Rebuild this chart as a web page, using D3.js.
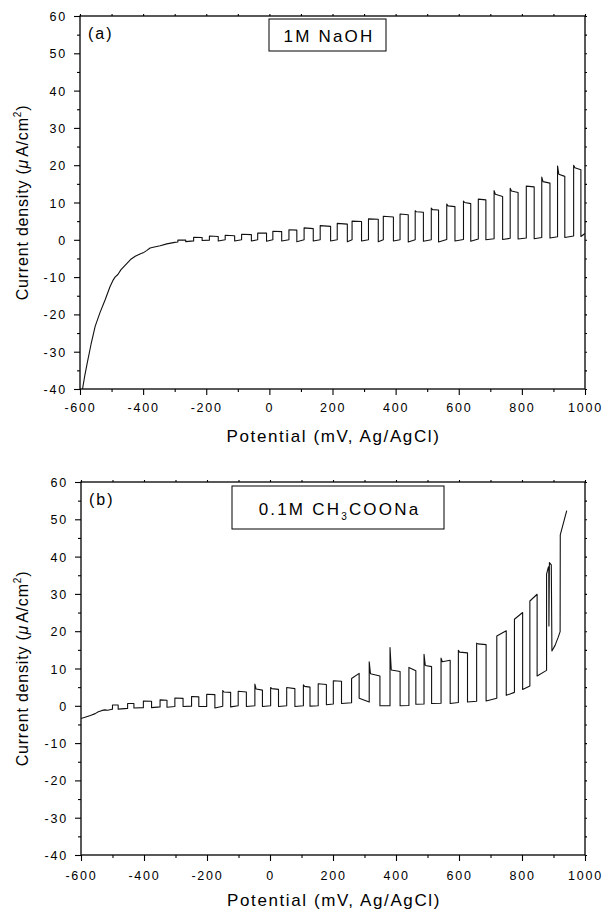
<!DOCTYPE html>
<html>
<head>
<meta charset="utf-8">
<script src="https://cdn.jsdelivr.net/npm/d3@7"></script>
<style>
  html, body { margin: 0; padding: 0; background: #fff; }
  svg { display: block; }
  text { font-family: "Liberation Sans", Arial, Helvetica, sans-serif; fill: #000; }
</style>
</head>
<body>
<svg id="chart" width="603" height="910"></svg>
<script>
// ---------------- DATA ----------------
const xTicks = [-600, -400, -200, 0, 200, 400, 600, 800, 1000];
const xMinorTicks = [-500, -300, -100, 100, 300, 500, 700, 900];
const yTicks = [-40, -30, -20, -10, 0, 10, 20, 30, 40, 50, 60];
const yMinorTicks = [-35, -25, -15, -5, 5, 15, 25, 35, 45, 55];

// Panel (a) 1M NaOH : dark curve before chopping (mV, uA/cm2)
const naohBaseV = [-592, -585, -577, -565, -552, -537, -520, -505, -495, -489, -480, -470, -452, -440, -425, -410, -400, -389, -378, -368, -346, -325, -300];
const naohBaseI = [-40, -36.5, -33, -28, -23.2, -19.6, -16, -12.6, -10.8, -10, -9.3, -8, -6.4, -5.3, -4.4, -3.8, -3.5, -2.9, -2.2, -2.0, -1.6, -1.1, -0.7];
// Panel (a) chopped-light pulses
const naohOnV     = [-290, -240, -190, -140, -88, -37, 11, 62, 110, 161, 215, 262, 314, 361, 414, 462, 513, 562, 615, 662, 712, 763, 814, 863, 913, 964];
const naohOffV    = [-265, -213, -162, -110, -57, -9, 39, 87, 139, 194, 247, 292, 345, 393, 440, 488, 536, 588, 638, 686, 739, 788, 839, 889, 936, 987];
const naohDarkOn  = [-0.6, -0.3, -0.1, 0.0, 0.0, 0.0, 0.0, 0.0, 0.0, 0.0, 0.0, 0.0, 0.0, 0.0, 0.0, 0.0, 0.0, 0.1, 0.1, 0.2, 0.3, 0.4, 0.5, 0.6, 0.8, 1.0];
const naohSpike   = [null, null, null, null, null, null, null, null, null, null, null, null, null, null, null, 7.8, 8.5, 9.6, 10.4, null, 13.2, 13.8, null, 16.8, 19.8, 20.0];
const naohTopS    = [-0.1, 0.7, 1.0, 1.2, 1.5, 1.8, 2.3, 2.7, 3.2, 3.8, 4.4, 5.0, 5.6, 6.3, 6.9, 7.5, 8.1, 9.1, 10.0, 10.9, 12.2, 13.1, 14.4, 15.6, 17.6, 19.3];
const naohTopE    = [-0.1, 0.6, 0.9, 1.1, 1.4, 1.8, 2.2, 2.6, 3.0, 3.6, 4.2, 4.9, 5.5, 6.1, 6.7, 7.4, 8.0, 8.9, 9.7, 10.7, 11.6, 12.7, 14.2, 15.2, 17.0, 18.8];
const naohDarkOff = [-0.5, -0.2, -0.3, -0.3, -0.3, -0.4, -0.3, -0.5, -0.3, -0.3, -0.5, -0.3, -0.5, -0.3, -0.6, -0.4, -0.6, -0.3, -0.4, 0.0, 0.1, 0.2, 0.3, 0.5, 0.6, 0.9];
const naohTailV = [1000];
const naohTailI = [1.7];

// Panel (b) 0.1M CH3COONa : dark curve before chopping
const acBaseV = [-600, -585, -570, -555, -545, -535, -525, -515, -505];
const acBaseI = [-3.4, -3.0, -2.6, -2.1, -1.6, -1.3, -1.1, -1.2, -1.0];
// Panel (b) chopped-light pulses
const acOnV     = [-500, -452, -402, -349, -302, -249, -201, -150, -101, -48, 2, 53, 106, 153, 201, 259, 315, 381, 441, 489, 543, 598, 656, 720, 776, 825];
const acOffV    = [-482, -432, -376, -327, -276, -226, -175, -125, -75, -24, 27, 79, 127, 179, 227, 283, 349, 413, 463, 513, 572, 627, 686, 750, 802, 848];
const acDarkOn  = [-0.9, -0.7, -0.5, -0.3, -0.2, -0.1, -0.2, -0.1, 0.0, 0.0, 0.0, 0.0, 0.0, 0.0, 0.5, 0.8, 1.0, 0.0, 0.1, 0.5, 0.7, 0.9, 1.2, 2.0, 3.6, 5.3];
const acSpike   = [null, null, null, null, null, null, null, 4.1, null, 5.8, 4.9, null, 5.6, null, null, null, 11.8, 15.6, null, 13.8, 12.8, 14.9, 16.8, null, null, null];
const acTopS    = [0.2, 0.6, 1.3, 1.6, 2.1, 2.5, 3.1, 3.7, 3.9, 4.5, 4.6, 4.9, 5.2, 5.9, 6.7, 7.3, 8.6, 9.6, 10.3, 10.8, 11.8, 14.4, 16.6, 18.7, 23.2, 28.1];
const acTopE    = [0.2, 0.6, 1.2, 1.5, 2.0, 2.4, 3.0, 3.6, 3.7, 4.2, 4.4, 4.6, 5.0, 5.7, 6.6, 8.7, 8.0, 9.2, 9.4, 10.5, 12.2, 14.2, 16.4, 20.1, 25.0, 29.9];
const acDarkOff = [-0.9, -0.6, -0.5, -0.4, -0.2, -0.2, -0.6, -0.3, -0.2, -0.2, -0.2, -0.2, -0.1, 0.3, 0.6, 2.0, 0.0, 0.0, 0.4, 0.6, 0.6, 1.0, 1.3, 2.8, 4.4, 8.0];
const acTailV = [878, 878, 883, 885, 885.5, 887, 893, 895, 905, 915, 921, 921.5, 942];
const acTailI = [9.5, 35.3, 37.0, 37.3, 21.4, 38.4, 37.8, 14.7, 16.2, 18.4, 19.9, 45.8, 52.3];

const spikeDecayMV = 4;

// ---------------- BUILD TRACES ----------------
function buildTrace(baseV, baseI, onV, offV, darkOn, spike, topS, topE, darkOff, tailV, tailI) {
  const pts = baseV.map((v, i) => [v, baseI[i]]);
  onV.forEach((v, i) => {
    pts.push([v, darkOn[i]]);
    if (spike[i] != null) {
      pts.push([v, spike[i]]);
      pts.push([v + spikeDecayMV, topS[i]]);
    } else {
      pts.push([v, topS[i]]);
    }
    pts.push([offV[i], topE[i]]);
    pts.push([offV[i], darkOff[i]]);
  });
  tailV.forEach((v, i) => pts.push([v, tailI[i]]));
  return pts;
}

const panels = [
  {
    id: "a", label: "(a)",
    left: 80, right: 585, top: 16, bottom: 389,
    trace: buildTrace(naohBaseV, naohBaseI, naohOnV, naohOffV, naohDarkOn, naohSpike, naohTopS, naohTopE, naohDarkOff, naohTailV, naohTailI),
    box: { x: 269, y: 19, w: 117, h: 32 },
    xLabelOffset: 18, titleY: 442
  },
  {
    id: "b", label: "(b)",
    left: 81, right: 585, top: 482, bottom: 855,
    trace: buildTrace(acBaseV, acBaseI, acOnV, acOffV, acDarkOn, acSpike, acTopS, acTopE, acDarkOff, acTailV, acTailI),
    box: { x: 232, y: 486, w: 212, h: 43 },
    xLabelOffset: 20, titleY: 906
  }
];

// ---------------- DRAW ----------------
const svg = d3.select("#chart");
const fmt = d => String(d);

panels.forEach((p, pi) => {
  const x = d3.scaleLinear().domain([-600, 1000]).range([p.left, p.right]);
  const y = d3.scaleLinear().domain([-40, 60]).range([p.bottom, p.top]);
  const g = svg.append("g");

  g.append("clipPath").attr("id", "clip" + p.id)
    .append("rect").attr("x", p.left).attr("y", p.top)
    .attr("width", p.right - p.left).attr("height", p.bottom - p.top);

  // axes
  const styleAxis = sel => {
    sel.select(".domain").remove();
    sel.selectAll(".tick line").attr("stroke", "#000").attr("stroke-width", 1.1);
    sel.selectAll(".tick text")
      .style("font-size", "12.5px").style("letter-spacing", "1.8px").attr("fill", "#000");
  };

  g.append("g").attr("transform", `translate(${p.left},0)`)
    .call(d3.axisLeft(y).tickValues(yTicks).tickSize(6).tickPadding(7).tickFormat(fmt))
    .call(styleAxis)
    .selectAll(".tick text").attr("dy", "0.36em");
  g.append("g").attr("transform", `translate(${p.left},0)`)
    .call(d3.axisLeft(y).tickValues(yMinorTicks).tickSize(3).tickFormat(""))
    .call(styleAxis);

  const xa = g.append("g").attr("transform", `translate(0,${p.bottom})`)
    .call(d3.axisBottom(x).tickValues(xTicks).tickSize(6).tickPadding(p.xLabelOffset - 6 - 4).tickFormat(fmt))
    .call(styleAxis);
  g.append("g").attr("transform", `translate(0,${p.bottom})`)
    .call(d3.axisBottom(x).tickValues(xMinorTicks).tickSize(3).tickFormat(""))
    .call(styleAxis);

  // top & right small ticks
  g.append("g").attr("transform", `translate(0,${p.top})`)
    .call(d3.axisTop(x).tickValues(xTicks.concat(xMinorTicks)).tickSize(2).tickFormat(""))
    .call(styleAxis);
  g.append("g").attr("transform", `translate(${p.right},0)`)
    .call(d3.axisRight(y).tickValues(yTicks.concat(yMinorTicks)).tickSize(2).tickFormat(""))
    .call(styleAxis);

  // frame
  g.append("rect").attr("x", p.left).attr("y", p.top)
    .attr("width", p.right - p.left).attr("height", p.bottom - p.top)
    .attr("fill", "none").attr("stroke", "#000").attr("stroke-width", 1.3);

  // trace
  const line = d3.line().x(d => x(d[0])).y(d => y(d[1]));
  g.append("path").datum(p.trace)
    .attr("clip-path", `url(#clip${p.id})`)
    .attr("d", line)
    .attr("fill", "none").attr("stroke", "#111").attr("stroke-width", 1.1)
    .attr("stroke-linejoin", "round");

  // panel label
  g.append("text").attr("x", p.left + 8).attr("y", p.top + 23)
    .style("font-size", "16px").style("letter-spacing", "2px").text(p.label);

  // electrolyte box
  g.append("rect").attr("x", p.box.x).attr("y", p.box.y)
    .attr("width", p.box.w).attr("height", p.box.h)
    .attr("fill", "#fff").attr("stroke", "#000").attr("stroke-width", 1);
  const bt = g.append("text").attr("x", p.box.x + p.box.w / 2 + 1.5)
    .attr("y", p.box.y + p.box.h / 2 + 7)
    .attr("text-anchor", "middle")
    .style("font-size", "17px").style("letter-spacing", "2.2px");
  if (p.id === "a") {
    bt.text("1M NaOH");
  } else {
    bt.append("tspan").text("0.1M CH");
    bt.append("tspan").attr("dy", 5).style("font-size", "10px").text("3");
    bt.append("tspan").attr("dy", -5).text("COONa");
  }

  // x title
  g.append("text").attr("x", (p.left + p.right) / 2 + 1).attr("y", p.titleY)
    .attr("text-anchor", "middle")
    .style("font-size", "17px").style("letter-spacing", "1.6px")
    .text("Potential (mV, Ag/AgCl)");

  // y title
  const yt = g.append("text")
    .attr("transform", `translate(28,${(p.top + p.bottom) / 2}) rotate(-90)`)
    .attr("text-anchor", "middle")
    .style("font-size", "16px").style("letter-spacing", "0.8px");
  yt.append("tspan").text("Current density (");
  yt.append("tspan").style("font-style", "italic").text("μ");
  yt.append("tspan").attr("dx", 2).text("A/cm");
  yt.append("tspan").attr("dy", -7).style("font-size", "10px").text("2");
  yt.append("tspan").attr("dy", 7).text(")");
});
</script>
</body>
</html>
